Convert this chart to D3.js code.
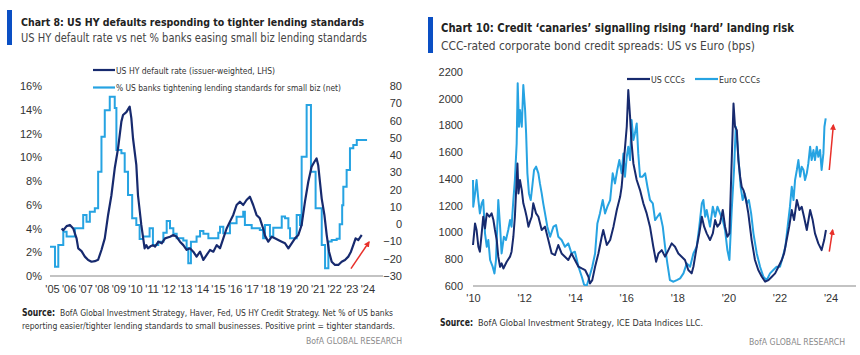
<!DOCTYPE html>
<html><head><meta charset="utf-8">
<script src="https://cdnjs.cloudflare.com/ajax/libs/d3/7.8.5/d3.min.js"></script>
<style>
html,body{margin:0;padding:0;background:#fff;}
svg{display:block;font-family:"Liberation Sans Narrow","DejaVu Sans Condensed",Lato,"Liberation Sans",sans-serif;}
</style></head><body>
<svg id="c" width="860" height="355"></svg>
<script>
// ---------- Chart 8 data ----------
const leftYearTicks = ["'05","'06","'07","'08","'09","'10","'11","'12","'13","'14","'15","'16","'17","'18","'19","'20","'21","'22","'23","'24"];
const leftPctTicks = [0,2,4,6,8,10,12,14,16];
const rightNetTicks = [-30,-20,-10,0,10,20,30,40,50,60,70,80];
// US HY default rate, % (year, value)
const hyDefaultRate = [
[2005.70,4.0],[2005.80,3.85],[2006.00,4.2],[2006.20,4.3],[2006.40,4.0],[2006.60,3.17],[2006.70,2.33],[2006.90,2.1],
[2007.10,1.63],[2007.30,1.35],[2007.50,1.2],[2007.70,1.25],[2007.90,1.37],[2008.10,2.19],[2008.30,3.17],[2008.50,5.14],
[2008.70,6.8],[2008.90,9.07],[2009.10,10.75],[2009.30,13.0],[2009.40,13.56],[2009.60,13.8],[2009.80,14.26],[2009.90,13.3],
[2010.00,11.6],[2010.20,9.35],[2010.30,6.8],[2010.50,4.3],[2010.70,2.33],[2010.80,2.6],[2010.90,2.33],[2011.05,2.5],
[2011.20,2.6],[2011.33,2.47],[2011.53,2.89],[2011.73,2.75],[2011.93,3.17],[2012.23,3.3],[2012.43,3.45],[2012.63,3.3],
[2012.83,2.89],[2013.03,2.6],[2013.23,2.2],[2013.43,2.33],[2013.63,2.05],[2013.83,1.63],[2014.04,2.05],[2014.24,1.35],
[2014.44,1.77],[2014.64,2.19],[2014.84,2.05],[2015.04,2.6],[2015.24,2.33],[2015.44,3.17],[2015.64,4.0],[2015.84,4.58],
[2016.04,5.14],[2016.24,5.98],[2016.44,6.26],[2016.64,5.98],[2016.84,6.4],[2017.04,6.68],[2017.24,5.98],[2017.44,5.14],
[2017.64,4.86],[2017.84,4.0],[2017.95,3.4],[2018.15,2.89],[2018.35,3.3],[2018.55,3.17],[2018.75,3.03],[2018.96,2.89],
[2019.16,2.75],[2019.36,2.33],[2019.56,2.75],[2019.76,3.17],[2019.96,3.45],[2020.16,4.3],[2020.36,6.26],[2020.56,7.94],
[2020.76,9.2],[2020.92,9.6],[2021.06,9.9],[2021.16,9.3],[2021.26,7.94],[2021.37,6.5],[2021.53,5.14],[2021.67,3.45],
[2021.81,2.05],[2021.97,1.2],[2022.17,0.93],[2022.37,0.93],[2022.57,1.2],[2022.77,1.35],[2022.97,1.63],[2023.13,2.05],
[2023.27,2.6],[2023.41,3.17],[2023.57,3.03],[2023.70,3.3],[2023.78,3.45]
];
// % US banks tightening lending standards for small biz (net), step starts (year, value)
const smallBizTightening = [
[2005.0,-13],[2005.3,-24.6],[2005.5,-12],[2005.8,-4.4],[2006.0,-7.2],[2006.5,-2.4],[2007.0,5.3],[2007.2,1.4],
[2007.4,7.2],[2007.7,9.2],[2007.9,30.4],[2008.1,50.6],[2008.3,66],[2008.6,73.8],[2008.9,67.3],[2009.0,43],
[2009.3,41],[2009.5,30.4],[2009.7,16.9],[2009.95,3.4],[2010.2,-0.5],[2010.4,-8.6],[2010.6,-7.2],[2011.0,-2.4],
[2011.2,-12],[2011.52,-10.1],[2011.83,-5],[2012.03,1.8],[2012.23,-2.4],[2012.43,-5.5],[2012.63,-8.2],[2013.03,-9.5],
[2013.23,-13.8],[2013.33,-22.6],[2013.49,-10.1],[2013.83,-7.2],[2014.04,-3.9],[2014.24,-5.5],[2014.54,-8.2],[2015.14,-5],
[2015.24,-1.5],[2015.44,-5.3],[2015.84,0.5],[2016.24,4.3],[2016.64,7.2],[2016.74,-0.5],[2017.15,-2.4],[2017.64,-3.4],
[2017.84,-8.2],[2017.95,-0.5],[2018.25,-7.2],[2018.45,-2],[2018.96,4.4],[2019.16,3.5],[2019.36,-2.4],[2019.46,-8.2],
[2019.86,5.3],[2020.06,-0.5],[2020.16,39],[2020.46,69],[2020.72,30.4],[2021.0,9.2],[2021.37,-12],[2021.57,-25.5],
[2021.77,-10],[2021.97,-9.2],[2022.27,-8.5],[2022.45,0],[2022.6,11],[2022.67,21.7],[2022.87,31.4],[2023.07,43.9],
[2023.27,45.8],[2023.48,48.7],[2024.1,48.7]
];
const leftArrow = [[2023.13,-25.7],[2024.22,-10.3]];

// ---------- Chart 10 data ----------
const rightYearTicks = [2010,2012,2014,2016,2018,2020,2022,2024];
const rightYearLabels = ["'10","'12","'14","'16","'18","'20","'22","'24"];
const spreadTicks = [600,800,1000,1200,1400,1600,1800,2000,2200];
const usCCC = [
[2010.00,906],[2010.08,1067],[2010.14,1018],[2010.21,893],[2010.27,856],[2010.34,993],[2010.40,1117],[2010.47,1030],
[2010.54,1142],[2010.64,1117],[2010.73,1142],[2010.80,1092],[2010.86,1018],[2010.93,943],[2010.99,819],[2011.06,744],
[2011.12,769],[2011.19,731],[2011.32,781],[2011.45,819],[2011.51,856],[2011.58,968],[2011.64,1117],[2011.74,1515],
[2011.78,1291],[2011.84,1391],[2011.91,1316],[2011.97,1217],[2012.04,1167],[2012.10,1117],[2012.17,1043],[2012.23,1080],
[2012.30,1117],[2012.36,1217],[2012.47,1142],[2012.56,1117],[2012.69,1018],[2012.82,1043],[2012.95,943],[2013.08,843],
[2013.21,831],[2013.34,906],[2013.47,843],[2013.60,819],[2013.73,794],[2013.86,843],[2013.99,794],[2014.13,744],
[2014.26,731],[2014.39,719],[2014.52,669],[2014.58,619],[2014.67,644],[2014.78,744],[2014.91,843],[2015.04,968],
[2015.10,1018],[2015.24,906],[2015.37,943],[2015.50,1043],[2015.63,1167],[2015.76,1266],[2015.82,1341],[2015.91,1540],
[2016.02,1789],[2016.08,2063],[2016.15,1864],[2016.21,1665],[2016.28,1515],[2016.41,1391],[2016.54,1316],[2016.67,1217],
[2016.80,1142],[2016.93,1043],[2017.06,893],[2017.17,781],[2017.26,843],[2017.39,868],[2017.52,819],[2017.65,868],
[2017.78,918],[2017.91,893],[2018.04,843],[2018.17,819],[2018.30,794],[2018.43,719],[2018.56,694],[2018.63,744],
[2018.76,893],[2018.86,993],[2018.96,1117],[2019.05,1043],[2019.15,993],[2019.28,943],[2019.39,993],[2019.48,1092],
[2019.57,1043],[2019.67,1067],[2019.78,1167],[2019.87,1043],[2019.96,968],[2020.04,993],[2020.13,1540],[2020.20,1963],
[2020.26,1789],[2020.33,1764],[2020.39,1540],[2020.46,1416],[2020.52,1341],[2020.59,1316],[2020.69,1242],[2020.78,1142],
[2020.91,943],[2021.04,794],[2021.17,719],[2021.31,669],[2021.44,632],[2021.57,644],[2021.70,669],[2021.83,694],
[2021.96,744],[2022.09,794],[2022.18,843],[2022.28,943],[2022.38,1043],[2022.48,1167],[2022.57,1092],[2022.68,1242],
[2022.78,1167],[2022.87,1192],[2022.96,1117],[2023.07,1018],[2023.20,1167],[2023.30,1092],[2023.39,993],[2023.52,918],
[2023.65,868],[2023.75,943],[2023.82,1018]
];
const euroCCC = [
[2010.00,1391],[2010.01,1192],[2010.08,1291],[2010.14,1391],[2010.21,1242],[2010.27,1142],[2010.34,1217],[2010.40,1242],
[2010.47,993],[2010.54,893],[2010.60,943],[2010.67,794],[2010.77,744],[2010.84,694],[2010.90,794],[2010.99,1242],
[2011.06,1043],[2011.12,843],[2011.21,968],[2011.29,943],[2011.38,1018],[2011.45,1092],[2011.51,1043],[2011.58,1242],
[2011.64,1391],[2011.71,1665],[2011.75,2113],[2011.80,1789],[2011.84,1914],[2011.91,1789],[2011.97,2100],[2012.04,1914],
[2012.08,1739],[2012.13,1441],[2012.19,1291],[2012.26,1242],[2012.32,1341],[2012.39,1466],[2012.47,1491],[2012.56,1441],
[2012.62,1366],[2012.69,1291],[2012.75,1217],[2012.82,1142],[2012.91,1043],[2013.02,968],[2013.15,1043],[2013.25,1055],
[2013.34,968],[2013.47,943],[2013.60,893],[2013.73,918],[2013.86,843],[2013.99,856],[2014.13,744],[2014.26,669],
[2014.35,610],[2014.45,600],[2014.56,669],[2014.67,744],[2014.78,843],[2014.87,1067],[2014.97,1142],[2015.08,1242],
[2015.17,1142],[2015.26,1192],[2015.37,1242],[2015.47,1441],[2015.56,1366],[2015.65,1466],[2015.73,1540],[2015.82,1441],
[2015.89,1590],[2015.95,1416],[2016.02,1565],[2016.08,1640],[2016.15,1540],[2016.21,1839],[2016.28,1690],[2016.34,1739],
[2016.41,1814],[2016.47,1590],[2016.54,1416],[2016.64,1416],[2016.74,1441],[2016.83,1341],[2016.93,1242],[2017.04,1217],
[2017.13,1092],[2017.22,1117],[2017.32,1142],[2017.43,1043],[2017.52,893],[2017.61,769],[2017.71,644],[2017.85,632],
[2017.98,644],[2018.11,657],[2018.24,694],[2018.37,769],[2018.50,744],[2018.63,843],[2018.76,893],[2018.86,1043],
[2018.96,1217],[2019.02,1242],[2019.09,1117],[2019.15,1167],[2019.28,1043],[2019.39,1192],[2019.48,1117],[2019.57,1192],
[2019.67,1142],[2019.78,1092],[2019.87,1018],[2019.96,868],[2020.04,794],[2020.13,1167],[2020.22,1466],[2020.29,1789],
[2020.35,1665],[2020.42,1491],[2020.48,1341],[2020.56,1242],[2020.64,1291],[2020.72,1217],[2020.80,1242],[2020.89,1142],
[2020.98,993],[2021.11,843],[2021.24,744],[2021.37,669],[2021.50,644],[2021.63,694],[2021.76,719],[2021.89,744],
[2022.02,744],[2022.13,819],[2022.23,893],[2022.32,1043],[2022.41,1192],[2022.48,1341],[2022.55,1242],[2022.61,1391],
[2022.68,1466],[2022.74,1540],[2022.81,1416],[2022.87,1491],[2022.94,1466],[2023.00,1391],[2023.07,1441],[2023.13,1515],
[2023.20,1640],[2023.26,1540],[2023.33,1615],[2023.39,1540],[2023.46,1640],[2023.52,1565],[2023.59,1615],[2023.65,1466],
[2023.72,1590],[2023.76,1789],[2023.81,1851]
];
const rightArrows = [[[2023.95,1466],[2024.11,1802]],[[2023.95,856],[2024.08,1018]]];

// ---------- styles ----------
const DARK = "#172a6e", LIGHT = "#26a3e2", RED = "#e8302a", BAR = "#0a4fc4", TXT = "#333", AX = "#888";

const svg = d3.select("#c");
const defs = svg.append("defs");
const mk = defs.append("marker").attr("id","ah").attr("viewBox","0 0 10 10").attr("refX",8).attr("refY",5)
  .attr("markerWidth",4).attr("markerHeight",4).attr("orient","auto");
mk.append("path").attr("d","M0,0L10,5L0,10z").attr("fill",RED);

// text with a target width: shrink font if natural width is far too wide, then fine-tune with textLength
function txt(g, x, y, s, o){
  const t = g.append("text").attr("x",x).attr("y",y).text(s)
    .attr("font-size",o.size).attr("fill",o.fill||TXT).attr("font-weight",o.weight||"normal");
  if(o.anchor) t.attr("text-anchor",o.anchor);
  if(o.len){
    const w = t.node().getComputedTextLength();
    let fs = o.size;
    if(w > o.len*1.06){ fs = o.size*o.len*1.06/w; t.attr("font-size",fs); }
    const w2 = t.node().getComputedTextLength();
    if(Math.abs(w2-o.len) > 1) t.attr("textLength",o.len).attr("lengthAdjust","spacingAndGlyphs");
  }
  return t;
}
function sourceLine(g, x, y, rest, totalLen){
  const b = txt(g,x,y,"Source:",{size:10,weight:"bold",fill:"#222"});
  const bw = b.node().getComputedTextLength();
  const x2 = x + Math.min(bw,33) + 5;
  if(bw > 33) b.attr("textLength",33).attr("lengthAdjust","spacingAndGlyphs");
  txt(g,x2,y,rest,{size:10,fill:"#333",len:totalLen-(x2-x)});
}

// ================= LEFT CHART =================
{
  const g = svg.append("g");
  g.append("rect").attr("x",7).attr("y",10).attr("width",5).attr("height",35).attr("fill",BAR);
  txt(g,21,25.5,"Chart 8: US HY defaults responding to tighter lending standards",{size:14.5,weight:"bold",fill:"#222",len:343});
  txt(g,21,41.5,"US HY default rate vs net % banks easing small biz lending standards",{size:13,fill:"#444",len:346});

  const x = d3.scaleLinear().domain([2005,2025]).range([50,382]);
  const yL = d3.scaleLinear().domain([0,16]).range([276,86]);
  const yR = d3.scaleLinear().domain([-30,80]).range([276,86]);

  g.append("line").attr("x1",50).attr("x2",383).attr("y1",yL(0)).attr("y2",yL(0)).attr("stroke",AX).attr("stroke-width",1.2);

  const ax1 = g.append("g").attr("transform","translate(42,0)")
    .call(d3.axisLeft(yL).tickValues(leftPctTicks).tickFormat(d=>d+"%").tickSize(0).tickPadding(0));
  ax1.select(".domain").remove();
  ax1.selectAll("text").attr("font-size",11).attr("fill",TXT).attr("font-family",null);
  const ax2 = g.append("g").attr("transform","translate(402,0)")
    .call(d3.axisLeft(yR).tickValues(rightNetTicks).tickSize(0).tickPadding(0));
  ax2.select(".domain").remove();
  ax2.selectAll("text").attr("font-size",11).attr("fill",TXT).attr("font-family",null);
  const ax3 = g.append("g").attr("transform","translate(0,"+(yL(0)+6)+")")
    .call(d3.axisBottom(x).tickValues(d3.range(leftYearTicks.length).map(i=>2005.12+i))
      .tickFormat((d,i)=>leftYearTicks[i]).tickSize(0).tickPadding(3));
  ax3.select(".domain").remove();
  ax3.selectAll("text").attr("font-size",11).attr("fill",TXT).attr("font-family",null);

  defs.append("clipPath").attr("id","clipL").append("rect").attr("x",48).attr("y",80).attr("width",340).attr("height",200);
  const pg = g.append("g").attr("clip-path","url(#clipL)");
  pg.append("path").datum(smallBizTightening)
    .attr("d",d3.line().x(d=>x(d[0])).y(d=>yR(d[1])).curve(d3.curveStepAfter))
    .attr("fill","none").attr("stroke",LIGHT).attr("stroke-width",2);
  pg.append("path").datum(hyDefaultRate)
    .attr("d",d3.line().x(d=>x(d[0])).y(d=>yL(d[1])).curve(d3.curveLinear))
    .attr("fill","none").attr("stroke",DARK).attr("stroke-width",2.2).attr("stroke-linejoin","round");

  g.append("line").attr("x1",x(leftArrow[0][0])).attr("y1",yR(leftArrow[0][1]))
    .attr("x2",x(leftArrow[1][0])).attr("y2",yR(leftArrow[1][1]))
    .attr("stroke",RED).attr("stroke-width",1.5).attr("marker-end","url(#ah)");

  g.append("line").attr("x1",93).attr("x2",115).attr("y1",70).attr("y2",70).attr("stroke",DARK).attr("stroke-width",2.2);
  txt(g,116,73.5,"US HY default rate (issuer-weighted, LHS)",{size:10,fill:"#333",len:159});
  g.append("line").attr("x1",93).attr("x2",115).attr("y1",87.5).attr("y2",87.5).attr("stroke",LIGHT).attr("stroke-width",2.2);
  txt(g,116,91,"% US banks tightening lending standards for small biz (net)",{size:10,fill:"#333",len:225});

  sourceLine(g,22,316,"BofA Global Investment Strategy, Haver, Fed, US HY Credit  Strategy. Net % of US banks",371);
  txt(g,22,329,"reporting easier/tighter lending standards  to small businesses.  Positive print = tighter standards.",{size:10,fill:"#333",len:373});
  txt(g,402,344,"BofA GLOBAL RESEARCH",{size:10,fill:"#8a8a8a",anchor:"end",len:96});
}

// ================= RIGHT CHART =================
{
  const g = svg.append("g");
  g.append("rect").attr("x",428).attr("y",17).attr("width",5).attr("height",36).attr("fill",BAR);
  txt(g,441,32,"Chart 10: Credit \u2018canaries\u2019 signalling rising \u2018hard\u2019 landing risk",{size:14.5,weight:"bold",fill:"#222",len:353});
  txt(g,441,49.5,"CCC-rated corporate bond credit spreads: US vs Euro (bps)",{size:13,fill:"#444",len:314});

  const x = d3.scaleLinear().domain([2010,2025]).range([473,856.1]);
  const y = d3.scaleLinear().domain([600,2200]).range([286,71.7]);

  g.append("line").attr("x1",473).attr("x2",856).attr("y1",y(600)).attr("y2",y(600)).attr("stroke",AX).attr("stroke-width",1.2);

  const ay = g.append("g").attr("transform","translate(463,0)")
    .call(d3.axisLeft(y).tickValues(spreadTicks).tickSize(0).tickPadding(0).tickFormat(d3.format("d")));
  ay.select(".domain").remove();
  ay.selectAll("text").attr("font-size",11).attr("fill",TXT).attr("font-family",null);
  const axx = g.append("g").attr("transform","translate(0,"+(y(600)+5)+")")
    .call(d3.axisBottom(x).tickValues(rightYearTicks).tickFormat((d,i)=>rightYearLabels[i]).tickSize(0).tickPadding(3));
  axx.select(".domain").remove();
  axx.selectAll("text").attr("font-size",11).attr("fill",TXT).attr("font-family",null);

  defs.append("clipPath").attr("id","clipR").append("rect").attr("x",470).attr("y",60).attr("width",390).attr("height",y(600)-60);
  const pg = g.append("g").attr("clip-path","url(#clipR)");
  pg.append("path").datum(euroCCC).attr("d",d3.line().x(d=>x(d[0])).y(d=>y(d[1])))
    .attr("fill","none").attr("stroke",LIGHT).attr("stroke-width",2).attr("stroke-linejoin","round");
  pg.append("path").datum(usCCC).attr("d",d3.line().x(d=>x(d[0])).y(d=>y(d[1])))
    .attr("fill","none").attr("stroke",DARK).attr("stroke-width",2).attr("stroke-linejoin","round");

  rightArrows.forEach(a=>{
    g.append("line").attr("x1",x(a[0][0])).attr("y1",y(a[0][1])).attr("x2",x(a[1][0])).attr("y2",y(a[1][1]))
      .attr("stroke",RED).attr("stroke-width",1.5).attr("marker-end","url(#ah)");
  });

  g.append("line").attr("x1",627).attr("x2",650).attr("y1",79).attr("y2",79).attr("stroke",DARK).attr("stroke-width",2.2);
  txt(g,651,82.5,"US CCCs",{size:10,fill:"#333",len:34});
  g.append("line").attr("x1",695).attr("x2",718).attr("y1",79).attr("y2",79).attr("stroke",LIGHT).attr("stroke-width",2.2);
  txt(g,719,82.5,"Euro CCCs",{size:10,fill:"#333",len:41});

  sourceLine(g,440,326,"BofA Global Investment Strategy, ICE Data Indices LLC.",263);
  txt(g,845,345,"BofA GLOBAL RESEARCH",{size:10,fill:"#8a8a8a",anchor:"end",len:96});
}
</script>
</body></html>
